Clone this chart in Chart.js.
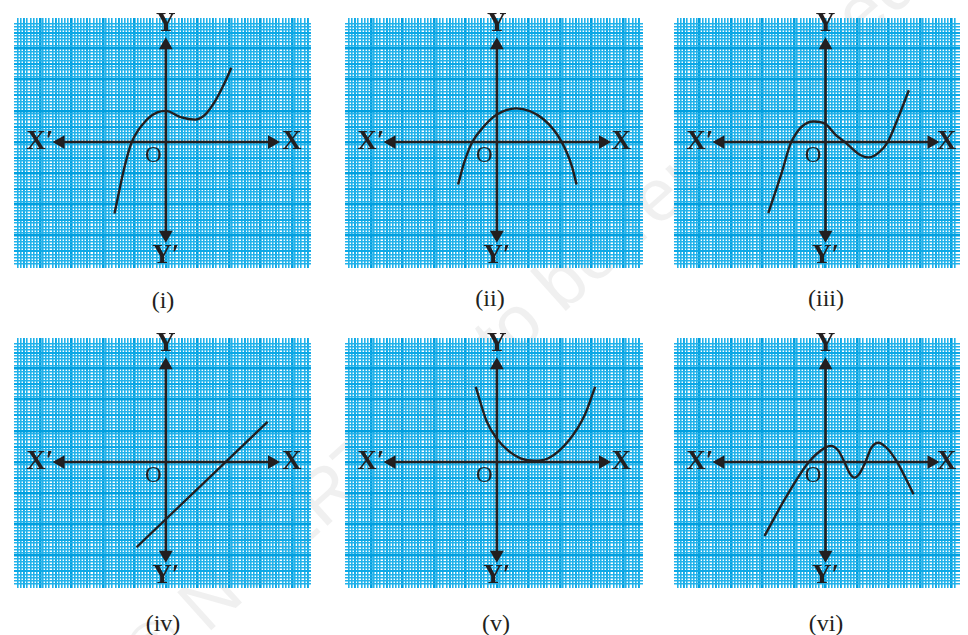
<!DOCTYPE html>
<html>
<head>
<meta charset="utf-8">
<script src="https://cdn.jsdelivr.net/npm/chart.js@4.4.0/dist/chart.umd.min.js"></script>
<style>
  body { margin: 0; background: #fff; width: 968px; height: 635px; position: relative; overflow: hidden; font-family: "Liberation Serif", serif; }
  canvas { position: absolute; }
  .cap { position: absolute; font-size: 24px; color: #231f20; transform: translate(-50%, -50%); white-space: nowrap; }
  .wm { position: absolute; left: 520px; top: 318px; transform: translate(-50%, -50%) rotate(-42deg); font-family: "Liberation Sans", sans-serif; font-size: 74px; color: rgba(90, 90, 90, 0.09); white-space: nowrap; pointer-events: none; }
</style>
</head>
<body>
<div class="wm">© NCERT not to be republished</div>
<script>
// curve points, in big-square units from O
const CURVE_I_X = [-1.63, -1.3, -1.08, -0.57, -0.27, 0, 0.47, 0.93, 1.23, 1.54, 1.83, 2.08];
const CURVE_I_Y = [-2.29, -0.75, 0, 0.75, 0.95, 1.0, 0.8, 0.72, 0.86, 1.27, 1.82, 2.38];

const CURVE_II_X = [-1.23, -1.04, -0.78, -0.43, 0, 0.61, 1.48, 2.06, 2.38, 2.53];
const CURVE_II_Y = [-1.36, -0.67, 0, 0.48, 0.88, 1.08, 0.73, 0, -0.77, -1.36];

const CURVE_III_X = [-1.82, -1.39, -1.09, -0.38, 0, 0.32, 0.62, 1.05, 1.38, 1.7, 1.98, 2.33, 2.65];
const CURVE_III_Y = [-2.28, -0.97, 0, 0.66, 0.58, 0.23, 0, -0.38, -0.49, -0.33, 0, 0.83, 1.66];

const CURVE_IV_X = [-0.93, 3.23];
const CURVE_IV_Y = [-2.73, 1.29];

const CURVE_V_X = [-0.67, -0.32, 0, 0.38, 0.75, 1.19, 1.65, 2.29, 2.79, 3.12];
const CURVE_V_Y = [2.41, 1.3, 0.75, 0.35, 0.12, 0.04, 0.13, 0.7, 1.51, 2.41];

const CURVE_VI_X = [-1.94, -1.29, -0.53, 0, 0.17, 0.42, 0.6, 0.77, 0.92, 1.08, 1.27, 1.45, 1.68, 1.95, 2.28, 2.53, 2.8];
const CURVE_VI_Y = [-2.37, -1.18, 0, 0.47, 0.52, 0.35, 0, -0.36, -0.5, -0.37, 0, 0.45, 0.62, 0.45, 0, -0.48, -1.03];

const CAPTIONS = ["(i)", "(ii)", "(iii)", "(iv)", "(v)", "(vi)"];
const AXIS_NAMES = ["X\u2032", "X", "Y", "Y\u2032"];
const ORIGIN_NAME = "O";

// axis ends (arrow centres)
const X_AXIS_ENDS = [-3.34, 3.37];
const Y_AXIS_ENDS = [-2.97, 3.1];

const UNIT = 33.2; // px per big square
const INK = "#231f20";

const panels = [
  { xs: CURVE_I_X, ys: CURVE_I_Y, left: 6, top: 10, w: 313, h: 266, cap: [163, 300], xLab: 4.0 },
  { xs: CURVE_II_X, ys: CURVE_II_Y, left: 337, top: 10, w: 314, h: 266, cap: [490, 298], xLab: 3.95 },
  { xs: CURVE_III_X, ys: CURVE_III_Y, left: 666, top: 10, w: 302, h: 266, cap: [826, 298], xLab: 3.85 },
  { xs: CURVE_IV_X, ys: CURVE_IV_Y, left: 6, top: 330, w: 313, h: 266, cap: [163, 623], xLab: 4.0 },
  { xs: CURVE_V_X, ys: CURVE_V_Y, left: 337, top: 330, w: 314, h: 266, cap: [496, 623], xLab: 3.95 },
  { xs: CURVE_VI_X, ys: CURVE_VI_Y, left: 666, top: 330, w: 302, h: 266, cap: [826, 623], xLab: 3.85 },
];

function gridColor(ctx) {
  const v = ctx.tick.value * 10;
  const n = Math.round(v);
  if (Math.abs(v - n) > 0.01) return "rgba(0,0,0,0)";
  if (n % 10 === 0) return "#009fdf";
  if (n % 5 === 0) return "#0ca8e6";
  return "#22b2ea";
}
function gridWidth(ctx) {
  const n = Math.round(ctx.tick.value * 10);
  if (n % 10 === 0) return 2.6;
  if (n % 5 === 0) return 1.9;
  return 1.6;
}

const axisText = {
  id: "axisText",
  afterDatasetsDraw(chart, args, opts) {
    const { ctx, scales: { x, y } } = chart;
    ctx.save();
    ctx.fillStyle = INK;
    ctx.textAlign = "center";
    ctx.textBaseline = "middle";
    ctx.font = 'bold 27px "Liberation Serif"';
    ctx.fillText(AXIS_NAMES[0], x.getPixelForValue(-4.0), y.getPixelForValue(0));
    ctx.fillText(AXIS_NAMES[1], x.getPixelForValue(opts.xLab), y.getPixelForValue(0));
    ctx.fillText(AXIS_NAMES[2], x.getPixelForValue(0), y.getPixelForValue(3.78));
    ctx.fillText(AXIS_NAMES[3], x.getPixelForValue(0), y.getPixelForValue(-3.64));
    ctx.font = '23px "Liberation Serif"';
    ctx.fillText(ORIGIN_NAME, x.getPixelForValue(-0.4), y.getPixelForValue(-0.46));
    ctx.restore();
  }
};

panels.forEach((p, i) => {
  const cv = document.createElement("canvas");
  cv.width = p.w;
  cv.height = p.h;
  cv.style.left = p.left + "px";
  cv.style.top = p.top + "px";
  cv.style.width = p.w + "px";
  cv.style.height = p.h + "px";
  document.body.appendChild(cv);

  const cap = document.createElement("div");
  cap.className = "cap";
  cap.textContent = CAPTIONS[i];
  cap.style.left = p.cap[0] + "px";
  cap.style.top = p.cap[1] + "px";
  document.body.appendChild(cap);

  const curve = p.xs.map((x, k) => ({ x: x, y: p.ys[k] }));

  new Chart(cv, {
    type: "line",
    data: {
      datasets: [
        {
          data: curve,
          borderColor: INK,
          borderWidth: 2.4,
          pointRadius: 0,
          cubicInterpolationMode: "monotone",
          fill: false,
        },
        {
          data: [{ x: X_AXIS_ENDS[0], y: 0 }, { x: X_AXIS_ENDS[1], y: 0 }],
          borderColor: INK,
          borderWidth: 2.6,
          pointStyle: "triangle",
          pointRotation: [-90, 90],
          pointRadius: 8,
          pointBorderWidth: 0,
          pointBackgroundColor: INK,
          tension: 0,
        },
        {
          data: [{ x: 0, y: Y_AXIS_ENDS[0] }, { x: 0, y: Y_AXIS_ENDS[1] }],
          borderColor: INK,
          borderWidth: 2.6,
          pointStyle: "triangle",
          pointRotation: [180, 0],
          pointRadius: 8,
          pointBorderWidth: 0,
          pointBackgroundColor: INK,
          tension: 0,
        },
      ],
    },
    options: {
      responsive: false,
      animation: false,
      layout: { padding: 0 },
      plugins: { legend: { display: false }, tooltip: { enabled: false }, axisText: { xLab: p.xLab } },
      scales: {
        x: {
          type: "linear",
          min: -160 / UNIT,
          max: (p.w - 160) / UNIT,
          border: { display: false },
          grid: { color: gridColor, lineWidth: gridWidth, drawTicks: false },
          ticks: { display: false, stepSize: 0.1, maxTicksLimit: 400, autoSkip: false },
        },
        y: {
          type: "linear",
          min: -(p.h - 132) / UNIT,
          max: 132 / UNIT,
          border: { display: false },
          grid: { color: gridColor, lineWidth: gridWidth, drawTicks: false },
          ticks: { display: false, stepSize: 0.1, maxTicksLimit: 400, autoSkip: false },
        },
      },
    },
    plugins: [axisText],
  });
});
</script>
</body>
</html>
